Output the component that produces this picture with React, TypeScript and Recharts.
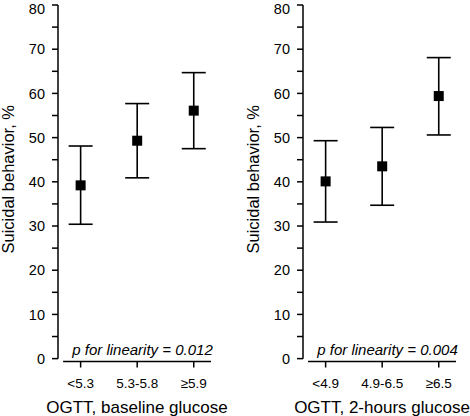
import * as React from "react";
import { ScatterChart, Scatter, XAxis, YAxis, ErrorBar, ReferenceLine } from "recharts";

const leftCategories = ["<5.3", "5.3-5.8", "≥5.9"];
const leftMeans = [39.2, 49.3, 56.1];
const leftLower = [30.4, 40.9, 47.5];
const leftUpper = [48.1, 57.7, 64.7];

const rightCategories = ["<4.9", "4.9-6.5", "≥6.5"];
const rightMeans = [40.1, 43.5, 59.4];
const rightLower = [30.9, 34.7, 50.6];
const rightUpper = [49.3, 52.3, 68.1];

const yTicks = [0, 5, 10, 15, 20, 25, 30, 35, 40, 45, 50, 55, 60, 65, 70, 75, 80];

const X_MIN = -0.4;
const X_MAX = 2.305;
const Y_MIN = -0.65;
const FONT = "'Liberation Sans', Arial, Helvetica, sans-serif";

const buildRows = (means: number[], lower: number[], upper: number[]) =>
  means.map((m, i) => ({ idx: i, value: m, err: [m - lower[i], upper[i] - m] }));

const Square = (p: any) => <rect x={p.cx - 5} y={p.cy - 5} width={10} height={10} fill="#000" />;

interface PanelProps {
  categories: string[];
  means: number[];
  lower: number[];
  upper: number[];
  xTitle: string;
  pText: string;
  shift: number;
}

const Panel: React.FC<PanelProps> = ({ categories, means, lower, upper, xTitle, pText, shift }) => {
  const rows = buildRows(means, lower, upper);

  const yLabel = (props: any) => {
    const { x, y, height } = props.viewBox;
    const cx = x + 8;
    const cy = y + height / 2 - 4;
    return (
      <text x={cx} y={cy} transform={`rotate(-90 ${cx} ${cy})`} textAnchor="middle"
        dominantBaseline="central" fontSize={16.5} fill="#000">
        Suicidal behavior, %
      </text>
    );
  };

  const xLabel = (props: any) => {
    const { x, y, width } = props.viewBox;
    return (
      <g>
        <text x={x + 84.5} y={y - 6.8} textAnchor="middle" fontSize={15} fontStyle="italic" fill="#000">
          {pText}
        </text>
        <text x={x + width / 2 + 2.5} y={413} textAnchor="middle" fontSize={17} fill="#000">
          {xTitle}
        </text>
      </g>
    );
  };

  const xTick = (props: any) => (
    <text x={props.x} y={388} textAnchor="middle" fontSize={13.5} fill="#000">
      {categories[props.payload.value]}
    </text>
  );

  return (
    <ScatterChart width={235} height={416} margin={{ top: 5, right: 24 - shift, bottom: 0, left: shift }}>
      <XAxis
        type="number"
        dataKey="idx"
        domain={[X_MIN, X_MAX]}
        ticks={[0, 1, 2]}
        allowDataOverflow
        axisLine={false}
        tickLine={{ stroke: "#000", strokeWidth: 1.5 }}
        tickSize={6}
        tick={xTick}
        height={54.5}
        label={{ content: xLabel }}
      />
      <YAxis
        type="number"
        dataKey="value"
        domain={[Y_MIN, 80]}
        ticks={yTicks}
        allowDataOverflow
        tickFormatter={(v) => (v % 10 === 0 ? String(v) : "")}
        axisLine={false}
        tickLine={{ stroke: "#000", strokeWidth: 1.5 }}
        tickSize={6}
        tickMargin={7}
        tick={{ fill: "#000", fontSize: 14.5 }}
        width={58}
        label={{ content: yLabel }}
      />
      <ReferenceLine
        segment={[{ x: X_MIN, y: 0 }, { x: X_MIN, y: 80 }]}
        stroke="#000"
        strokeWidth={1.5}
        ifOverflow="visible"
      />
      <ReferenceLine
        segment={[{ x: -0.31, y: Y_MIN }, { x: X_MAX, y: Y_MIN }]}
        stroke="#000"
        strokeWidth={1.5}
        ifOverflow="visible"
      />
      <Scatter data={rows} shape={Square} isAnimationActive={false}>
        <ErrorBar dataKey="err" direction="y" width={12} stroke="#000" strokeWidth={1.6} />
      </Scatter>
    </ScatterChart>
  );
};

export default function App() {
  return (
    <div style={{ position: "fixed", left: 0, top: 0, width: 470, height: 416, background: "#fff", display: "flex", fontFamily: FONT }}>
      <Panel categories={leftCategories} means={leftMeans} lower={leftLower} upper={leftUpper}
        xTitle="OGTT, baseline glucose" pText="p for linearity = 0.012" shift={0} />
      <Panel categories={rightCategories} means={rightMeans} lower={rightLower} upper={rightUpper}
        xTitle="OGTT, 2-hours glucose" pText="p for linearity = 0.004" shift={10} />
    </div>
  );
}
